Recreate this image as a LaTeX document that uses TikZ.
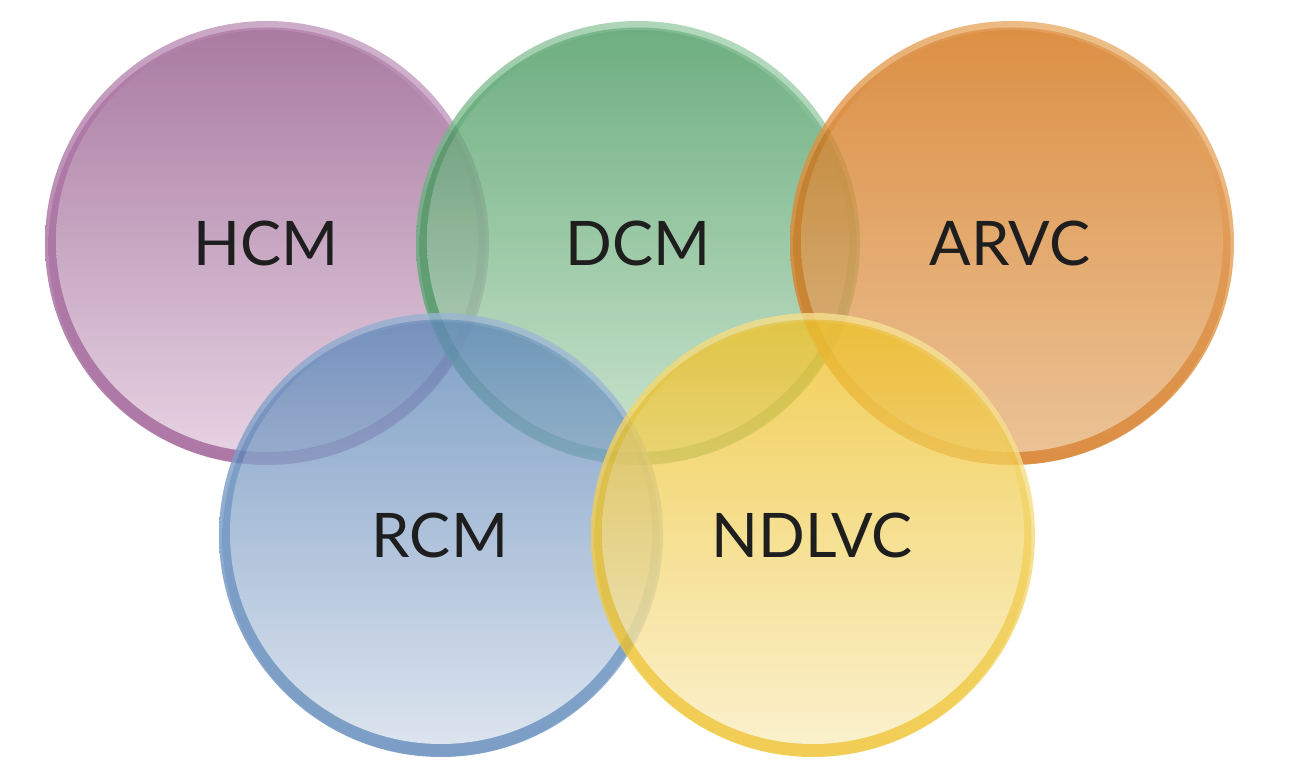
\documentclass[tikz,border=0pt]{standalone}
\usepackage{fontspec}
\setmainfont{Lato}
\usetikzlibrary{calc,shadings}
\definecolor{hcmTop}{HTML}{935A8A}\definecolor{hcmBot}{HTML}{E0C7DB}
\definecolor{hcmDark}{HTML}{9A5690}\definecolor{hcmLight}{HTML}{C9A8C6}
\definecolor{dcmTop}{HTML}{499A60}\definecolor{dcmBot}{HTML}{BCDDC1}
\definecolor{dcmDark}{HTML}{459A5E}\definecolor{dcmLight}{HTML}{B0D8BA}
\definecolor{arvTop}{HTML}{D37416}\definecolor{arvBot}{HTML}{E6B37B}
\definecolor{arvDark}{HTML}{D37216}\definecolor{arvLight}{HTML}{EDB878}
\definecolor{rcmTop}{HTML}{5F88B8}\definecolor{rcmBot}{HTML}{D3DDEA}
\definecolor{rcmDark}{HTML}{5B86B8}\definecolor{rcmLight}{HTML}{A9BFDA}
\definecolor{ndlTop}{HTML}{EEC22C}\definecolor{ndlBot}{HTML}{F9EDBF}
\definecolor{ndlDark}{HTML}{EDC12A}\definecolor{ndlLight}{HTML}{F8E8A8}
\definecolor{labelInk}{HTML}{1E1E1E}
\tikzset{
  vlabel/.style={font=\fontsize{35}{40}\selectfont, text=labelInk, inner sep=0pt, anchor=center},
}
\newcommand\vennblob[5]{%
  \begin{scope}[transparency group, opacity=0.8]
    \shade[upper right=#5, upper left=#4!40!#5, lower left=#4, lower right=#4!70!#5] (#1,#2) circle[radius=222];
    \shade[upper right=#4!55!#5, upper left=#4, lower left=#4, lower right=#4] ($(#1,#2)+(0,3)$) circle[radius=218.5];
    \shade[top color=#3Top, bottom color=#3Bot] ($(#1,#2)+(0,-2)$) circle[radius=211];
  \end{scope}}
\begin{document}
\begin{tikzpicture}[x=0.02cm,y=-0.02cm]
\useasboundingbox (0,0) rectangle (1292,780);
\vennblob{267}{243}{hcm}{hcmDark}{hcmLight}
\vennblob{638}{243}{dcm}{dcmDark}{dcmLight}
\vennblob{1012}{243}{arv}{arvDark}{arvLight}
\vennblob{441}{535}{rcm}{rcmDark}{rcmLight}
\vennblob{813}{535}{ndl}{ndlDark}{ndlLight}
\node[vlabel] (hcm) at (266,243) {HCM};
\node[vlabel] (dcm) at (638,243) {DCM};
\node[vlabel] (arvc) at (1010,243) {ARVC};
\node[vlabel] (rcm) at (440,535) {RCM};
\node[vlabel] (ndlvc) at (812,535) {NDLVC};
\end{tikzpicture}
\end{document}
